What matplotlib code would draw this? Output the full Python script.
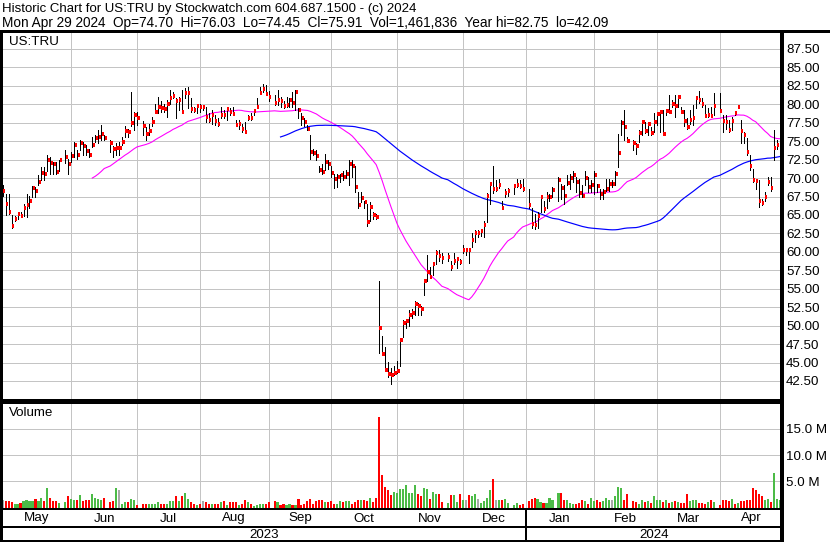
import numpy as np
import pandas as pd
import matplotlib
matplotlib.use("Agg")
import matplotlib.pyplot as plt
from matplotlib.lines import Line2D
import matplotlib.transforms as mtransforms

plt.rcParams['font.family'] = ['Liberation Sans', 'DejaVu Sans']

N = None
# ---------------- data (one entry per weekday, None = market holiday) -------------
high = [
    69.0, 67.9, 67.9, 65.0, 64.9, 65.4, 65.4, 66.5, 67.9, 67.6, 68.9, 68.8, 70.4, 71.5, 71.5, 73.1, 72.9, 72.2, 72.2, 72.5, N, 73.8, 72.6,
    73.5, 74.9, 73.8, 75.1, 74.9, 74.5, 74.0, 75.6, 75.8, 76.5, 77.2, 75.8, N, 75.1, 74.3, 74.7, 74.9, 75.6, 77.0, 76.7, 81.7, 79.0,
    79.0, N, 77.7, 76.9, 77.4, 78.3, 80.1, 80.95, 80.4, 80.1, 80.6, 81.95, 81.7, 80.8, 81.0, 81.95, 82.2, 82.3, 80.8, 79.7, 80.1,
    80.1, 79.9, 79.7, 78.8, 79.2, 78.5, 78.1, 79.7, 79.2, 79.7, 79.5, 79.7, 77.9, 77.9, 77.4, 77.6, 78.5, 78.8, 79.3, 80.8, 82.4, 82.75, 82.6,
    81.8, N, 81.3, 81.9, 80.95, 80.4, 81.0, 80.8, 81.7, 81.9, 79.5, 78.8, 78.1, 77.2, 75.8, 74.0, 73.8, 71.7, 71.95, 73.3, 72.4,
    71.6, 70.6, 70.6, 70.6, 70.9, 71.1, 72.4, 72.4, 71.7, 68.1, 68.1, 66.95, 66.5, 66.7, 65.4, 65.1, 56.1, 48.6, 47.1, 45.1, 44.3, 44.5,
    45.2, 48.2, 50.8, 50.8, 52.1, 52.2, 53.3, 53.1, 52.6, 56.2, 59.6, 58.0, 58.5, 60.2, 60.3, 59.9, N, 59.9, 58.7, 59.9, 59.0, 59.1,
    60.9, 60.5, 60.3, 62.5, 62.95, 62.9, 63.0, 64.2, 67.95, 69.5, 71.6, 69.7, 69.9, 66.95, 68.5, 68.7, N, 69.0, 69.9, 69.8, 69.9,
    N, 68.5, 66.0, 65.1, 65.4, 67.6, 66.95, 68.1, 67.9, 68.8, N, 70.2, 69.2, 69.0, 70.4, 70.6, 71.0, 70.1, 69.9, 69.0, 71.0, 70.1, 69.7,
    71.0, 69.2, 68.5, 68.5, 69.9, 69.9, 69.7, 71.0, 76.0, 77.9, 79.2, 75.6, N, 75.1, 74.8, 76.5, 77.9, 77.6, 77.6, 76.95, 78.8,
    79.0, 79.2, 79.2, 79.3, 81.3, 80.6, 81.3, 81.3, 79.7, 79.2, 78.1, 79.2, 79.9, 80.8, 81.8, 80.8, 79.9, 79.45, 79.7, 81.5, N,
    81.5, 78.5, 78.5, 77.9, 78.3, 79.0, 79.9, 77.9, 76.3, 75.4, 73.1, 71.3, 69.9, 69.7, 67.2, 68.1, 70.1, 70.1, 76.5, 75.1, 76.03,
]
low = [
    67.6, 65.0, 65.1, 63.3, 64.2, 64.5, 64.7, 64.9, 64.7, 66.0, 67.4, 67.4, 69.0, 69.7, 69.7, 71.0, 70.6, 70.6, 70.6, 71.0, N, 72.0, 70.6,
    72.2, 72.9, 72.6, 73.8, 73.1, 73.1, 72.9, 74.2, 74.9, 74.7, 75.1, 75.1, N, 73.5, 72.9, 73.1, 73.1, 74.5, 75.6, 75.6, 77.0, 76.5,
    77.2, N, 75.8, 75.1, 75.8, 77.0, 78.8, 78.8, 79.0, 79.0, 78.3, 80.1, 80.8, 78.1, 79.2, 78.8, 80.8, 79.5, 79.0, 79.0, 78.8,
    79.0, 79.2, 77.6, 77.6, 77.4, 77.2, 77.0, 78.1, 78.1, 77.9, 78.5, 78.5, 77.0, 76.7, 76.3, 76.1, 77.9, 77.9, 78.5, 79.5, 81.5, 81.7, 81.3,
    80.4, N, 79.9, 79.9, 79.7, 79.5, 79.7, 79.7, 79.7, 79.2, 78.1, 77.2, 77.0, 76.5, 72.6, 73.1, 72.4, 70.8, 70.6, 71.1, 71.3,
    70.2, 68.6, 68.8, 69.5, 69.7, 70.0, 69.0, 70.2, 68.1, 66.0, 66.7, 66.0, 63.5, 64.2, 64.5, 64.4, 46.3, 46.0, 43.8, 43.1, 42.09, 43.3,
    43.6, 44.6, 48.5, 49.7, 49.9, 51.0, 51.5, 51.5, 51.5, 54.1, 56.0, 56.6, 56.9, 58.4, 58.7, 58.5, N, 58.7, 57.5, 58.4, 57.8, 58.4,
    59.8, 59.6, 58.5, 60.6, 61.4, 62.0, 62.2, 62.0, 64.0, 66.5, 68.0, 68.3, 68.6, 65.8, 67.4, 67.6, N, 67.9, 68.8, 68.7, 68.3,
    N, 66.0, 63.3, 63.1, 63.3, 65.4, 65.4, 66.0, 66.95, 67.4, N, 66.95, 67.2, 66.5, 69.0, 68.5, 69.5, 68.1, 67.4, 67.4, 69.0, 68.1, 68.1,
    67.9, 68.1, 67.2, 67.2, 68.3, 68.3, 68.8, 69.0, 71.5, 75.8, 75.1, 74.9, N, 73.8, 73.3, 74.9, 75.8, 76.05, 75.8, 75.8, 76.3,
    77.2, 76.3, 75.8, 78.5, 78.8, 79.7, 78.3, 79.7, 78.8, 77.0, 76.7, 77.4, 77.2, 79.45, 80.2, 79.7, 78.3, 78.3, 78.3, 78.5, N,
    79.0, 76.3, 76.7, 76.3, 76.5, 78.5, 79.45, 74.7, 74.7, 73.1, 71.05, 69.45, 68.5, 66.05, 66.3, 66.95, 69.0, 68.3, 72.4, 74.0, 74.45,
]
close = [
    68.2, 66.5, 65.4, 63.5, 64.5, 65.1, 64.9, 65.9, 66.3, 66.9, 68.6, 68.3, 69.5, 70.7, 70.6, 72.4, 72.0, 71.9, 70.8, 72.4, N, 72.8, 71.9,
    73.0, 74.5, 73.1, 74.8, 74.3, 73.7, 73.2, 74.5, 75.4, 75.6, 76.0, 75.4, N, 74.8, 73.9, 74.1, 74.1, 74.9, 76.4, 76.2, 77.5, 78.5,
    78.2, N, 77.1, 76.0, 76.4, 77.6, 79.0, 79.7, 79.5, 79.3, 80.0, 80.8, 81.1, 80.4, 80.6, 78.95, 81.5, 81.6, 79.4, 79.2, 79.8,
    79.6, 79.6, 78.3, 77.9, 78.6, 77.8, 77.3, 78.6, 78.5, 79.3, 78.9, 78.7, 77.2, 77.4, 76.7, 76.3, 78.2, 78.1, 79.1, 79.7, 81.6, 82.1, 81.4,
    81.0, N, 80.2, 80.6, 80.4, 79.8, 79.9, 80.6, 80.2, 81.7, 79.2, 78.2, 77.6, 76.7, 73.5, 73.4, 73.0, 71.1, 70.8, 72.2, 71.9,
    70.7, 69.9, 70.2, 70.4, 70.1, 70.6, 71.9, 71.7, 68.8, 66.4, 67.3, 66.8, 64.1, 66.1, 65.0, 64.7, 49.75, 46.2, 44.0, 43.5, 43.3, 43.6,
    43.9, 48.0, 50.3, 50.6, 51.5, 51.7, 53.0, 52.7, 52.3, 56.0, 57.3, 56.6, 58.3, 59.9, 59.4, 59.2, N, 59.3, 57.9, 58.8, 59.0, 58.6,
    60.25, 60.25, 60.2, 61.6, 62.6, 62.6, 62.8, 63.6, 67.6, 69.2, 68.5, 68.5, 69.0, 66.0, 67.95, 68.2, N, 68.9, 69.1, 68.9, 68.5,
    N, 66.4, 63.8, 63.7, 64.9, 67.5, 65.8, 67.4, 67.5, 68.4, N, 69.8, 68.6, 67.6, 69.4, 70.0, 70.4, 69.5, 68.0, 67.6, 70.0, 68.8, 69.0,
    70.4, 68.9, 67.9, 68.1, 68.5, 69.2, 69.2, 70.5, 73.4, 77.5, 76.9, 75.05, N, 74.8, 74.3, 76.05, 77.6, 76.4, 77.3, 76.05, 77.6,
    78.7, 79.0, 75.95, 79.1, 79.0, 80.0, 79.8, 81.05, 79.0, 77.7, 76.95, 77.9, 78.1, 80.8, 80.6, 80.1, 78.45, 78.5, 78.4, 79.8, N,
    79.1, 77.8, 77.6, 76.5, 77.8, 78.8, 79.7, 76.4, 75.8, 73.5, 71.6, 69.7, 69.6, 66.9, 66.6, 67.5, 69.45, 68.6, 74.1, 74.45, 75.91,
]
# volume in millions of shares
volume = [
    1.4, 1.15, 1.15, 1.0, 0.75, 0.6, 0.8, 1.15, 1.5, 1.15, 1.15, 1.7, 1.15, 1.9, 1.15, 3.65, 1.9, 1.15, 1.15, 0.8, N, 1.0, 2.1,
    1.7, 1.5, 1.5, 2.3, 1.2, 1.35, 1.35, 2.5, 1.9, 1.7, 1.5, 1.9, N, 1.0, 1.15, 3.65, 3.3, 0.75, 1.0, 1.0, 1.7, 1.5,
    0.4, N, 0.75, 0.75, 0.6, 0.6, 0.75, 1.0, 0.6, 0.75, 0.6, 1.15, 1.15, 2.1, 1.15, 2.1, 2.7, 1.7, 1.0, 0.6, 0.4,
    0.6, 1.15, 1.0, 0.75, 0.75, 0.75, 0.75, 1.0, 1.15, 0.4, 1.0, 1.0, 1.0, 0.4, 0.75, 1.35, 1.0, 0.6, 0.25, 0.4, 0.75, 0.6, 0.75,
    1.0, N, 1.15, 1.0, 0.4, 0.75, 0.4, 0.75, 0.4, 0.4, 1.7, 0.4, 0.75, 1.15, 1.7, 0.75, 1.15, 1.35, 1.35, 1.0, 1.0,
    1.15, 0.75, 0.75, 1.15, 1.0, 1.15, 1.15, 0.6, 1.0, 1.35, 1.5, 1.35, 1.15, 1.9, 1.0, 1.9, 17.2, 6.2, 4.0, 3.3, 2.3, 2.9,
    2.7, 3.5, 3.5, 4.2, 2.7, 2.7, 4.2, 2.5, 2.1, 3.7, 3.5, 1.7, 2.9, 2.5, 2.5, 1.0, N, 0.8, 2.3, 2.3, 1.0, 2.5,
    1.5, 1.35, 2.3, 2.1, 2.5, 1.7, 0.8, 1.15, 1.9, 3.3, 5.4, 1.5, 1.35, 1.5, 1.7, 0.8, N, 0.4, 0.8, 0.4, 0.6,
    N, 1.15, 1.7, 1.8, 1.7, 1.0, 0.8, 0.8, 1.9, 1.4, N, 2.7, 2.7, 1.35, 1.35, 0.8, 0.6, 0.6, 0.8, 1.5, 1.15, 0.6, 1.9,
    1.15, 1.5, 1.0, 1.15, 1.9, 1.5, 1.35, 2.1, 4.0, 3.7, 1.5, 2.5, N, 1.15, 1.0, 0.6, 1.35, 1.0, 1.15, 0.8, 2.1,
    1.5, 1.5, 1.0, 1.35, 0.8, 1.0, 1.15, 1.0, 0.8, 0.8, 2.5, 1.15, 1.5, 1.35, 0.8, 0.8, 0.6, 1.0, 1.5, 1.0, N,
    0.4, 1.35, 1.35, 1.15, 1.7, 0.6, 0.8, 1.15, 1.15, 1.35, 1.5, 3.7, 3.3, 2.5, 2.1, 1.35, 1.7, 1.0, 6.5, 1.7, 1.46,
]
# r = down day, g = up day, n = unchanged, - = holiday
vol_dir = (
    "nrrrggrggggrggrgrrrg-gr"
    "ggrgrrrggggr-rrgnggrgg"
    "r-rrggggrrgggrgrggrrg"
    "rnrrgrrgrgrrrgrrgrggggr"
    "r-rgrrggrgrrrrrrrrrgr"
    "rrggrggrrrgrrgrrrrrrrg"
    "gggggggrrggrggrr-grggr"
    "gnrggnggggrngrgg-ggrr"
    "-rrrggrggg-grrgggrrrgrg"
    "grrgggngggrr-rrggrgrg"
    "ggrgrgrgrrrgggrrrgrg-"
    "rrrrgrgrrrrrrrrggrggg"
)
price_ticks = [42.5, 45.0, 47.5, 50.0, 52.5, 55.0, 57.5, 60.0, 62.5, 65.0, 67.5, 70.0,
               72.5, 75.0, 77.5, 80.0, 82.5, 85.0, 87.5]
vol_ticks = [5.0, 10.0, 15.0]
vol_tick_labels = ["5.0 M", "10.0 M", "15.0 M"]
header1 = "Historic Chart for US:TRU by Stockwatch.com 604.687.1500 - (c) 2024"
header2 = ("Mon Apr 29 2024  Op=74.70  Hi=76.03  Lo=74.45  Cl=75.91  "
           "Vol=1,461,836  Year hi=82.75  lo=42.09")
ma_short, ma_long = 30, 90

dates = pd.bdate_range("2023-05-01", "2024-04-29")
n = len(dates)
for name, arr in (("high", high), ("low", low), ("close", close), ("volume", volume), ("dir", vol_dir)):
    assert len(arr) == n, (name, len(arr), n)

hi = np.array([np.nan if v is None else v for v in high], float)
lo = np.array([np.nan if v is None else v for v in low], float)
cl = np.array([np.nan if v is None else v for v in close], float)
vo = np.array([np.nan if v is None else v for v in volume], float)
x = np.arange(n)

# ---------------- layout helpers ----------------
W, H = 830, 543
PX = 72.0 / 100.0  # points per pixel
fig = plt.figure(figsize=(W / 100, H / 100), dpi=100)
fig.patch.set_facecolor("white")


def box(x0, y0, x1, y1):
    return [x0 / W, 1 - y1 / H, (x1 - x0) / W, (y1 - y0) / H]


def fig_hline(y, x0, x1, lw):
    fig.add_artist(Line2D([x0 / W, x1 / W], [1 - y / H, 1 - y / H], color="black",
                          lw=lw * PX, solid_capstyle="butt", antialiased=False))


def fig_vline(xp, y0, y1, lw):
    fig.add_artist(Line2D([xp / W, xp / W], [1 - y0 / H, 1 - y1 / H], color="black",
                          lw=lw * PX, solid_capstyle="butt", antialiased=False))


XL = (-0.2, n - 0.2)
ax_p = fig.add_axes(box(2, 32.5, 782, 399.5))
ax_v = fig.add_axes(box(2, 402.5, 782, 508))

# month starts
month_start = [0] + [i for i in range(1, n) if dates[i].month != dates[i - 1].month]
grid_x = month_start[1:]
GRID = "#C4C4C4"
LABEL_FS = 9.6

# ---------------- price panel ----------------
ax_p.set_xlim(*XL)
p_scale = 332.0 / 45.0  # px per dollar
ax_p.set_ylim(42.5 - (399.5 - 381) / p_scale, 42.5 + (381 - 32.5) / p_scale)
ax_p.set_yticks(price_ticks)
ax_p.set_yticklabels([f"{v:.2f}" for v in price_ticks])
ax_p.set_xticks(grid_x)
ax_p.set_xticklabels([])
ax_p.yaxis.tick_right()
ax_p.tick_params(axis="y", length=0, pad=3.0, labelsize=LABEL_FS, colors="black")
ax_p.tick_params(axis="x", length=0)
ax_p.grid(True, color=GRID, lw=1.0 * PX, antialiased=False)
ax_p.set_axisbelow(True)
for s in ax_p.spines.values():
    s.set_visible(False)

ok = ~np.isnan(cl)
ax_p.vlines(x[ok], lo[ok], hi[ok], colors="black", lw=1.0 * PX, antialiased=False, zorder=3)
ax_p.hlines(cl[ok], x[ok] + 0.1, x[ok] + 0.85, colors="#FF0000", lw=2.2 * PX, antialiased=False, zorder=4)

s = pd.Series(cl[ok], index=x[ok])
ma1 = s.rolling(ma_short).mean().dropna()
ma2 = s.rolling(ma_long).mean().dropna()
ax_p.plot(ma1.index, ma1.values, color="#FF00FF", lw=1.1 * PX, zorder=2)
ax_p.plot(ma2.index, ma2.values, color="#0000FF", lw=1.2 * PX, zorder=2)

fig.text(9 / W, 1 - 42 / H, "US:TRU", fontsize=LABEL_FS, va="center", ha="left")

# ---------------- volume panel ----------------
v_scale = 5.25  # px per million
ax_v.set_xlim(*XL)
ax_v.set_ylim(-(508 - 507.5) / v_scale, (507.5 - 402.5) / v_scale)
ax_v.set_yticks(vol_ticks)
ax_v.set_yticklabels(vol_tick_labels)
ax_v.set_xticks(grid_x)
ax_v.set_xticklabels([])
ax_v.yaxis.tick_right()
ax_v.tick_params(axis="y", length=0, pad=3.0, labelsize=LABEL_FS, colors="black")
ax_v.tick_params(axis="x", length=0)
ax_v.grid(True, color=GRID, lw=1.0 * PX, antialiased=False)
ax_v.set_axisbelow(True)
for s_ in ax_v.spines.values():
    s_.set_visible(False)

cmap = {"r": "#FF0000", "g": "#4CBB47", "n": "#A8A8A8"}
okv = ~np.isnan(vo)
cols = [cmap[vol_dir[i]] for i in range(n) if okv[i]]
ax_v.bar(x[okv], vo[okv], width=0.7, color=cols, linewidth=0, antialiased=False, zorder=3)
fig.text(9 / W, 1 - 413 / H, "Volume", fontsize=LABEL_FS, va="center", ha="left")

# ---------------- time axis labels ----------------
trans = mtransforms.blended_transform_factory(ax_v.transData, fig.transFigure)
bounds = [XL[0]] + grid_x + [XL[1]]
for i in range(len(bounds) - 1):
    mid = 0.5 * (bounds[i] + bounds[i + 1])
    name = dates[month_start[i]].strftime("%b")
    ax_v.text(mid, 1 - 518.5 / H, name, transform=trans, ha="center", va="center",
              fontsize=LABEL_FS, clip_on=False)

year_start = [i for i in range(1, n) if dates[i].year != dates[i - 1].year]
ybounds = [XL[0]] + year_start + [XL[1]]
years = [dates[0].year] + [dates[i].year for i in year_start]
for i in range(len(ybounds) - 1):
    mid = 0.5 * (ybounds[i] + ybounds[i + 1])
    ax_v.text(mid, 1 - 534.5 / H, str(years[i]), transform=trans, ha="center", va="center",
              fontsize=LABEL_FS, clip_on=False)

# ---------------- header ----------------
fig.text(2 / W, 1 - 9 / H, header1, fontsize=9.55, va="center", ha="left")
fig.text(2 / W, 1 - 22.5 / H, header2, fontsize=9.8, va="center", ha="left")

# ---------------- frame lines ----------------
fig_hline(30.7, 0, 830, 2.7)
fig_vline(1.0, 30, 542, 2.2)
fig_vline(782.0, 30, 542, 2.5)
fig_hline(400.2, 0, 782, 1.2)
fig_hline(401.9, 0, 782, 1.2)
fig_hline(509.2, 0, 782, 2.0)
fig_hline(527.2, 0, 782, 2.0)
fig_hline(541.2, 0, 782, 2.0)
yr_px = 2 + (year_start[0] - XL[0]) * 780.0 / (XL[1] - XL[0])
fig_vline(yr_px, 509, 541, 2.0)

fig.savefig("out.png", dpi=100, facecolor="white")
